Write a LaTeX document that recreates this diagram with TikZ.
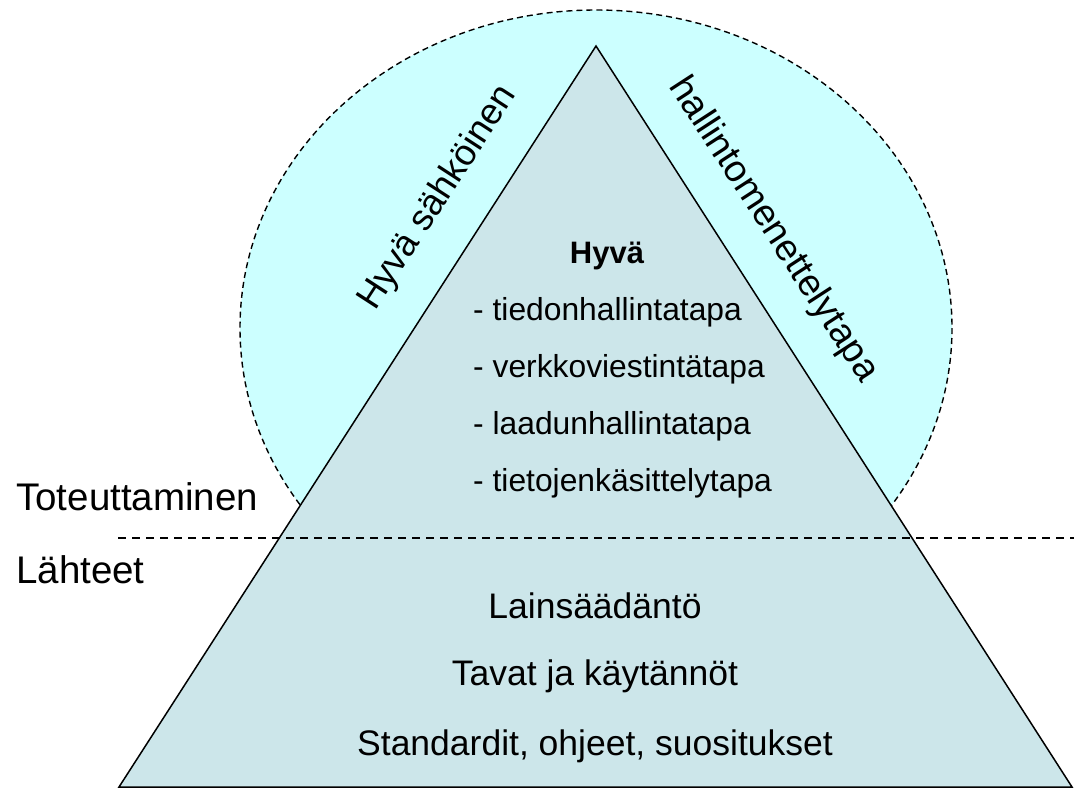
\documentclass[tikz,border=0pt]{standalone}
\usepackage{fontspec}
\setmainfont{Liberation Sans}
\definecolor{ellcol}{RGB}{204,255,255}
\definecolor{tricol}{RGB}{204,230,234}
\begin{document}
\begin{tikzpicture}[x=1pt,y=-1pt,
  bigtxt/.style={inner sep=0pt,font=\fontsize{36.5}{44}\selectfont},
  smalltxt/.style={inner sep=0pt,font=\fontsize{31.8}{38}\selectfont},
  ring/.style={draw=black,line width=1.4pt,dash pattern=on 6pt off 4pt},
  sep/.style={draw=black,line width=1.5pt,dash pattern=on 8pt off 6pt},
  pyr/.style={draw=black,line width=1.5pt,fill=tricol,line join=miter}]
\useasboundingbox (0,0) rectangle (1078,788);
% ellipse background
\fill[ellcol] (596,328) ellipse [x radius=356, y radius=318];
\draw[ring] (596,328) ellipse [x radius=356, y radius=318];
% triangle
\coordinate (apex) at (596,46);
\coordinate (bl) at (119,787);
\coordinate (br) at (1072,787);
\path[pyr] (apex) -- (bl) -- (br) -- cycle;
% separator line
\coordinate (sepL) at (118,538);
\coordinate (sepR) at (1074,538);
\draw[sep] (sepL) -- (sepR);
% left labels
\node[bigtxt,anchor=base west,font=\fontsize{38.5}{46}\selectfont] (tot) at (16,510) {Toteuttaminen};
\node[bigtxt,anchor=base west,font=\fontsize{38.5}{46}\selectfont] (lah) at (16,583) {Lähteet};
% rotated labels
\node[bigtxt,anchor=base,rotate=57] (hs) at (446,203) {Hyvä sähköinen};
\node[bigtxt,anchor=base,rotate=-57,font=\fontsize{37.5}{45}\selectfont] (hm) at (765,235) {hallintomenettelytapa};
% inner list
\node[smalltxt,anchor=base,font=\fontsize{31}{37}\selectfont\bfseries] (hyva) at (607,263) {Hyvä};
\node[smalltxt,anchor=base west] (l1) at (473,320) {- tiedonhallintatapa};
\node[smalltxt,anchor=base west] (l2) at (473,377) {- verkkoviestintätapa};
\node[smalltxt,anchor=base west] (l3) at (473,434) {- laadunhallintatapa};
\node[smalltxt,anchor=base west] (l4) at (473,491) {- tietojenkäsittelytapa};
% bottom
\node[bigtxt,anchor=base,font=\fontsize{35.5}{43}\selectfont] (b1) at (595,618) {Lainsäädäntö};
\node[bigtxt,anchor=base,font=\fontsize{35.5}{43}\selectfont] (b2) at (595,685) {Tavat ja käytännöt};
\node[bigtxt,anchor=base,font=\fontsize{35.5}{43}\selectfont] (b3) at (595,755) {Standardit, ohjeet, suositukset};
\end{tikzpicture}
\end{document}
